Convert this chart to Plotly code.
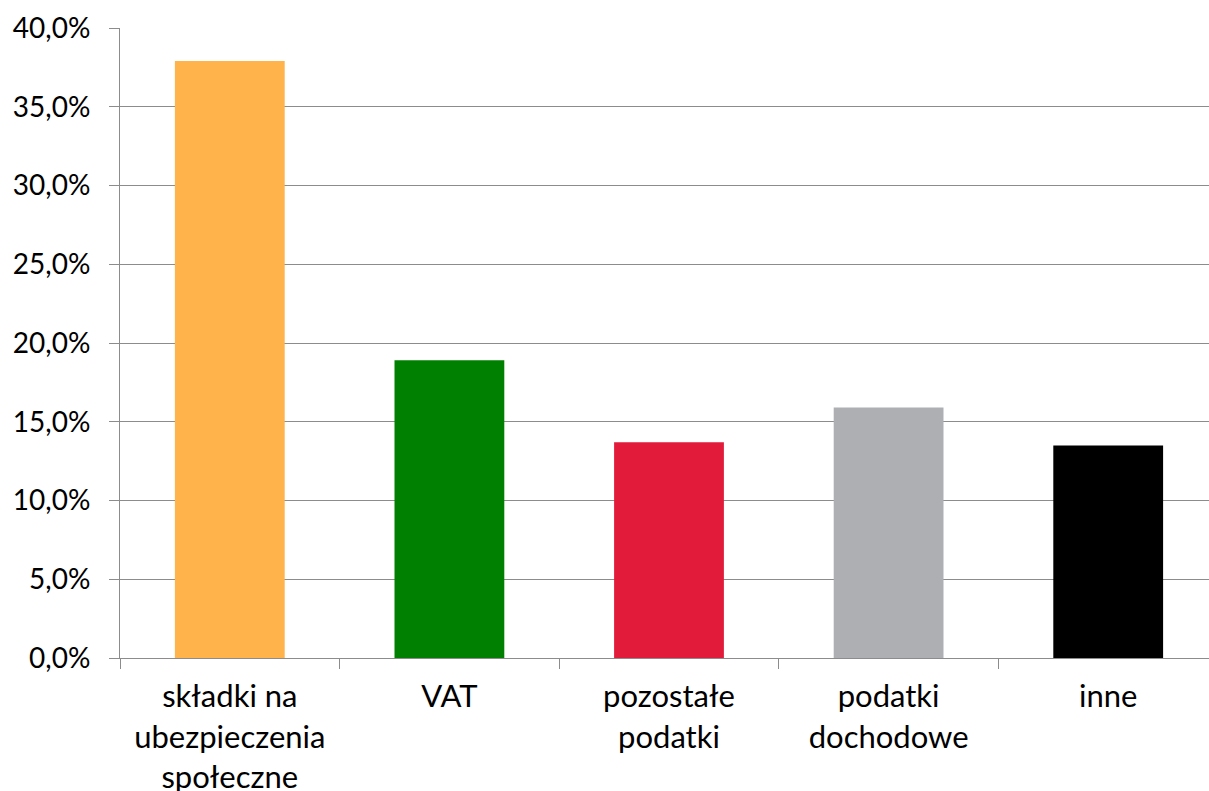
import plotly.graph_objects as go

categories = ["składki na<br>ubezpieczenia<br>społeczne", "VAT", "pozostałe<br>podatki",
              "podatki<br>dochodowe", "inne"]
values = [37.9, 18.9, 13.7, 15.9, 13.5]
colors = ["#FFB34A", "#008000", "#E31B3A", "#AEAFB3", "#000000"]

fig = go.Figure(go.Bar(
    x=categories,
    y=values,
    marker=dict(color=colors, line=dict(width=0)),
))

fig.update_layout(
    width=1218, height=791,
    margin=dict(l=120, r=0, t=28, b=133),
    plot_bgcolor="white",
    paper_bgcolor="white",
    bargap=0.5,
    separators=", ",
    showlegend=False,
    font=dict(family="Lato", size=28, color="#000000"),
)
fig.update_yaxes(
    range=[0, 40], dtick=5, tickformat=".1f", ticksuffix="%",
    showgrid=True, gridcolor="#8c8c8c", gridwidth=1,
    showline=True, linecolor="#8c8c8c", linewidth=1,
    ticks="outside", ticklen=10, tickcolor="#8c8c8c",
    zeroline=False, tickfont=dict(size=28), ticklabelstandoff=13,
    automargin=False,
)
fig.update_xaxes(
    showline=True, linecolor="#8c8c8c", linewidth=1,
    ticks="outside", ticklen=10, tickcolor="#8c8c8c",
    tickson="boundaries", showgrid=False, tickfont=dict(size=31),
    ticklabelstandoff=11, automargin=False,
)

# drop the browser's default body margin so the figure sits at (0, 0)
fig.write_html(
    "out.html",
    config={"displayModeBar": False},
    post_script="document.body.style.margin='0';document.body.style.overflow='hidden';",
)
